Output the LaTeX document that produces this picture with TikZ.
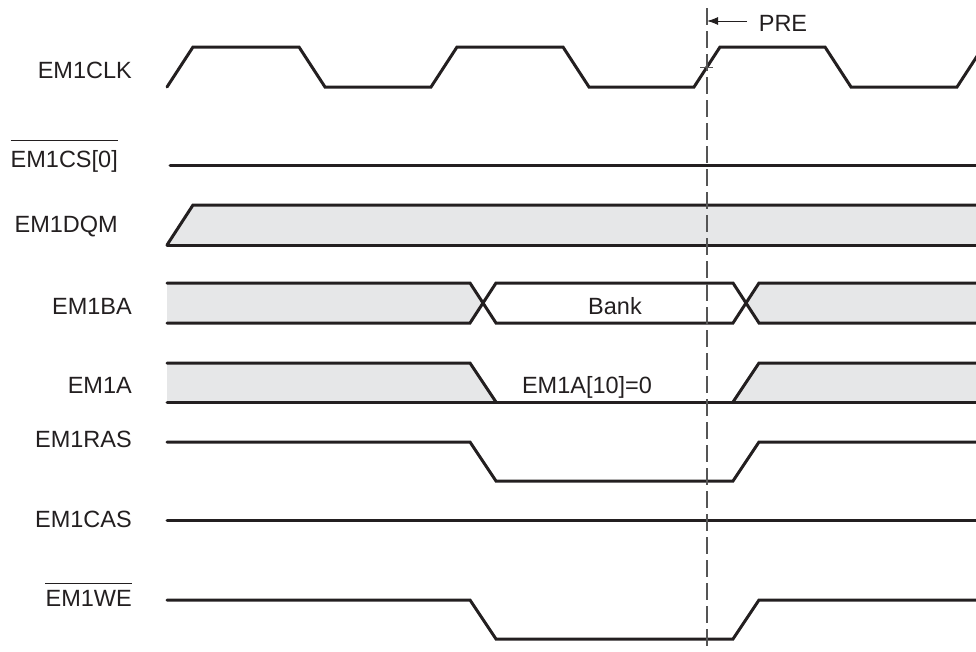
\documentclass[tikz,border=0pt]{standalone}
\usepackage{fontspec}
\setmainfont{Liberation Sans}
\usetikzlibrary{arrows.meta}
\definecolor{sig}{HTML}{231F20}
\definecolor{bus}{HTML}{E6E7E8}
\definecolor{guide}{HTML}{555555}
\begin{document}
\begin{tikzpicture}[x=1pt,y=-1pt,
  wave/.style={draw=sig,line width=3pt,line cap=round,line join=miter},
  busfill/.style={fill=bus,draw=none},
  lbl/.style={font=\fontsize{23.5}{26}\selectfont,text=sig,inner sep=0pt,anchor=base east},
  txt/.style={font=\fontsize{23.5}{26}\selectfont,text=sig,inner sep=0pt,anchor=base},
  ovl/.style={draw=sig,line width=1pt}]
\useasboundingbox (0,0) rectangle (976,651);

% labels
\node[lbl] (clk) at (132,78) {EM1CLK};
\node[lbl] (cs) at (118,167) {EM1CS[0]};
\draw[ovl] ([yshift=9pt]cs.north west) -- ([yshift=9pt]cs.north east);
\node[lbl] (dqm) at (118,232) {EM1DQM};
\node[lbl] (ba) at (132,314) {EM1BA};
\node[lbl] (a) at (132,393) {EM1A};
\node[lbl] (ras) at (132,447) {EM1RAS};
\node[lbl] (cas) at (132,527) {EM1CAS};
\node[lbl] (we) at (132,606) {EM1WE};
\draw[ovl] ([yshift=6pt]we.north west) -- ([yshift=6pt]we.north east);

% fills
\fill[busfill] (167,245) -- (193,205) -- (976,205) -- (976,245) -- cycle;
\fill[busfill] (167,283) -- (470,283) -- (483,303) -- (470,323) -- (167,323) -- cycle;
\fill[busfill] (759,283) -- (746,303) -- (759,323) -- (976,323) -- (976,283) -- cycle;
\fill[busfill] (167,363) -- (470,363) -- (496,402) -- (167,402) -- cycle;
\fill[busfill] (733,402) -- (759,363) -- (976,363) -- (976,402) -- cycle;

% clock
\draw[wave] (167,87) -- (193,47) -- (299,47) -- (325,87) -- (431,87) -- (457,47)
  -- (563,47) -- (589,87) -- (694,87) -- (720,47) -- (825,47) -- (851,87)
  -- (957,87) -- (983,47);
% EM1CS[0]
\draw[wave] (170,165) -- (976,165);
% EM1DQM
\draw[wave] (167,245) -- (193,205) -- (976,205);
\draw[wave] (167,245) -- (976,245);
% EM1BA
\draw[wave] (167,283) -- (470,283) -- (496,323) -- (733,323) -- (759,283) -- (976,283);
\draw[wave] (167,323) -- (470,323) -- (496,283) -- (733,283) -- (759,323) -- (976,323);
% EM1A
\draw[wave] (167,363) -- (470,363) -- (496,402);
\draw[wave] (167,402) -- (976,402);
\draw[wave] (733,402) -- (759,363) -- (976,363);
% EM1RAS
\draw[wave] (167,442) -- (470,442) -- (496,481) -- (733,481) -- (759,442) -- (976,442);
% EM1CAS
\draw[wave] (167,520) -- (976,520);
% EM1WE
\draw[wave] (167,600) -- (470,600) -- (496,639) -- (733,639) -- (759,600) -- (976,600);

% texts in buses
\node[txt] (bank) at (615,314) {Bank};
\node[txt] (a10) at (587,393) {EM1A[10]=0};

% reference line
\coordinate (rtop) at (707,8);
\coordinate (rbot) at (707,651);
\draw[guide,line width=1.2pt,dash pattern=on 17pt off 6pt] (rtop) -- (rbot);
\draw[guide,line width=0.8pt] (700,67) -- (713,67);
\node[txt] (pre) at (783,31) {PRE};
\coordinate (pretail) at (747,21);
\coordinate (prehead) at (707,21);
\draw[sig,line width=1pt,-{Latex[length=11pt,width=8pt]}] (pretail) -- (prehead);
\end{tikzpicture}
\end{document}
